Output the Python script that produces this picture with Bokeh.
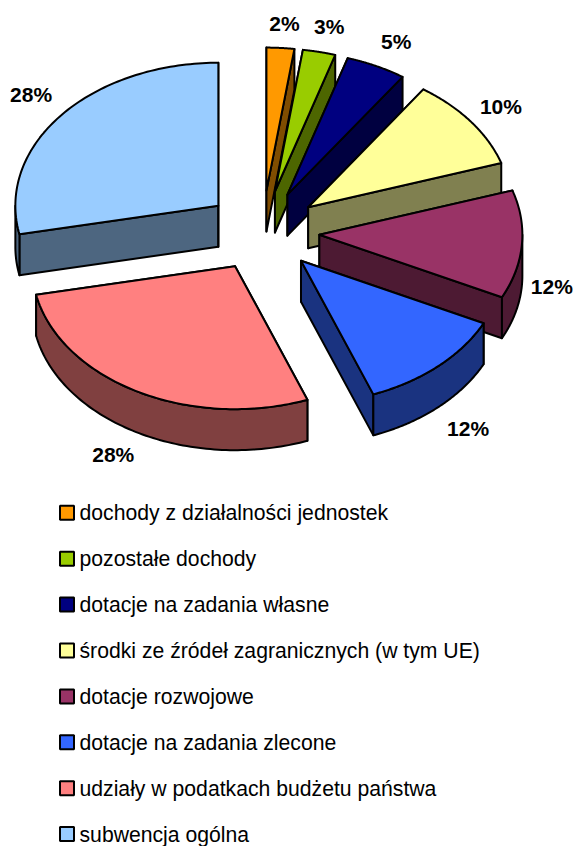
import numpy as np
from bokeh.plotting import figure
from bokeh.core.properties import value
from bokeh.embed import file_html
from bokeh.resources import INLINE

categories = ["dochody z działalności jednostek", "pozostałe dochody", "dotacje na zadania własne",
              "środki ze źródeł zagranicznych (w tym UE)", "dotacje rozwojowe", "dotacje na zadania zlecone",
              "udziały w podatkach budżetu państwa", "subwencja ogólna"]
shares = [2.2, 2.6, 4.8, 10.4, 12.2, 12.0, 27.6, 28.2]
tick_labels = ["2%", "3%", "5%", "10%", "12%", "12%", "28%", "28%"]
colors = ["#FF9900", "#99CC00", "#000080", "#FFFF99", "#993366", "#3366FF", "#FF8080", "#99CCFF"]
side_colors = ["#804D00", "#4D6600", "#000040", "#808050", "#4D1A33", "#1A3380", "#804040", "#4D6680"]

# Layout (page pixels)
CX, CY, RX, RY, DEPTH = 262.0, 231.5, 203.0, 143.0, 41.0
EX, EY_BACK, EY_FRONT = 57.0, 41.5, 39.0
label_nudge = [(4, -24), (10, -25), (20, -25), (30, -15), (30, 42), (30, 62), (-24, 63), (-30, -21)]
LEG_Y0, LEG_STEP, LEG_BOX_X, LEG_TEXT_X = 512.3, 45.9, 66.5, 79.0

p = figure(width=574, height=846, x_range=(0, 574), y_range=(846, 0),
           output_backend="svg", toolbar_location=None,
           x_axis_location=None, y_axis_location=None, min_border=0,
           outline_line_color=None)
p.grid.visible = False
p.background_fill_color = "white"
p.border_fill_color = "white"

edges = np.cumsum([0.0] + shares) / sum(shares) * 2 * np.pi


def rim(ax, ay, t):
    return ax + RX * np.sin(t), ay - RY * np.cos(t)


style = dict(line_color="black", line_width=2, line_join="round")
lx, ly = [], []
for i in range(len(shares)):
    a1, a2 = edges[i], edges[i + 1]
    mid = (a1 + a2) / 2
    c = np.cos(mid)
    ax, ay = CX + EX * np.sin(mid), CY - (EY_BACK if c > 0 else EY_FRONT) * c
    t = np.linspace(a1, a2, 90)
    ex, ey = rim(ax, ay, t)
    # radial walls
    for a in (a1, a2):
        rx_, ry_ = rim(ax, ay, a)
        p.patch([ax, rx_, rx_, ax], [ay, ry_, ry_ + DEPTH, ay + DEPTH], fill_color=side_colors[i], **style)
    # outer rim: only the part that faces the viewer
    f1, f2 = max(a1, np.pi / 2), min(a2, 3 * np.pi / 2)
    if f2 > f1:
        fx, fy = rim(ax, ay, np.linspace(f1, f2, 90))
        p.patch(list(fx) + list(fx[::-1]), list(fy) + list(fy[::-1] + DEPTH), fill_color=side_colors[i], **style)
    # top face
    p.patch([ax] + list(ex), [ay] + list(ey), fill_color=colors[i], **style)
    mx, my = rim(ax, ay, mid)
    lx.append(mx + label_nudge[i][0])
    ly.append(my + label_nudge[i][1])

p.text(lx, ly, text=tick_labels, text_font=value("Liberation Sans"), text_font_style="bold",
       text_font_size="21px", text_align="center", text_baseline="middle", text_color="black")

ys = [LEG_Y0 + LEG_STEP * i for i in range(len(categories))]
p.rect([LEG_BOX_X] * len(ys), ys, width=14, height=14, fill_color=colors, line_color="black", line_width=2)
p.text([LEG_TEXT_X] * len(ys), ys, text=categories, text_font=value("Liberation Sans"),
       text_font_size="21.2px", text_align="left", text_baseline="middle", text_color="black")

open("out.html", "w").write(file_html(p, INLINE))
